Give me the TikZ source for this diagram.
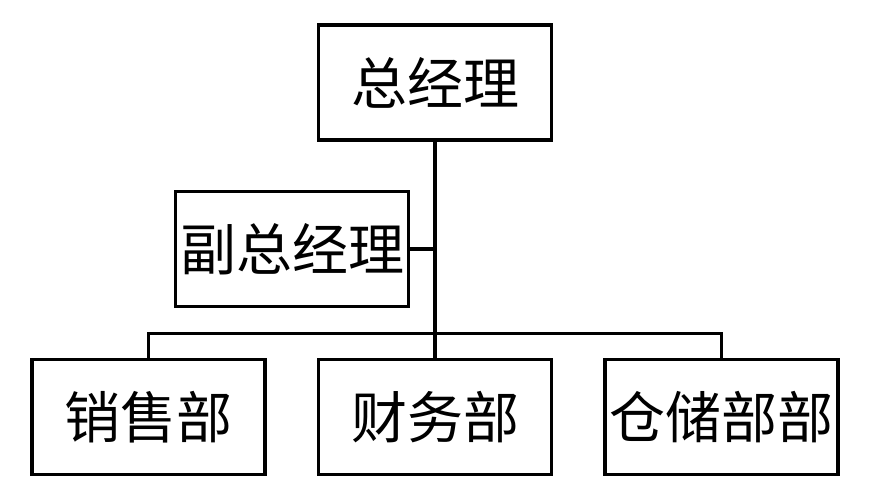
\documentclass[tikz,border=0pt]{standalone}
\usepackage{fontspec}
\newfontfamily\cjk{Noto Sans CJK SC}
\usepackage{tikz}
\usetikzlibrary{positioning}

\begin{document}
\begin{tikzpicture}[
    x=1pt, y=-1pt,
    node distance=216pt and 50pt,
    box/.style={rectangle, draw, line width=3.5pt, minimum width=233pt, minimum height=115pt, inner sep=0pt, align=center, font=\cjk\fontsize{56}{60}\selectfont},
    link/.style={line width=3.5pt}
]
\useasboundingbox (0,0) rectangle (871,503);
\node[box] (gm) at (435,82.5) {总经理};
\node[box] (vgm) at (292,249) {副总经理};
\node[box, below=of gm] (fin) {财务部};
\node[box, left=of fin] (sales) {销售部};
\node[box, right=of fin] (store) {仓储部部};
\coordinate (bus) at (435,333.5);

\draw[link] (gm.south) -- (fin.north);
\draw[link] (vgm.east) -- (vgm.east -| gm.south);
\draw[link] (sales.north) |- (bus) -| (store.north);
\end{tikzpicture}
\end{document}
